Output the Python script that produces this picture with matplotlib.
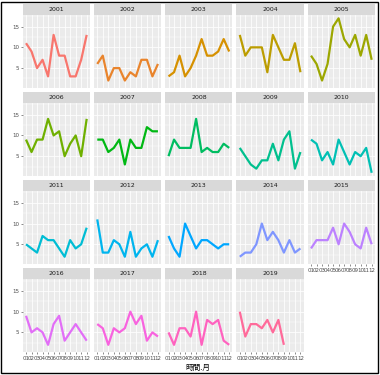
import numpy as np
import matplotlib
matplotlib.use("Agg")
import matplotlib.pyplot as plt
from matplotlib.patches import Rectangle

years = [str(y) for y in range(2001, 2020)]
months = ["01", "02", "03", "04", "05", "06", "07", "08", "09", "10", "11", "12"]

v2001 = [11, 9, 5, 7, 3, 13, 8, 8, 3, 3, 7, 13]
v2002 = [6, 8, 2, 5, 5, 2, 4, 3, 7, 7, 3, 6]
v2003 = [3, 4, 8, 3, 5, 8, 12, 8, 8, 9, 12, 9]
v2004 = [13, 8, 10, 10, 10, 4, 13, 10, 7, 7, 11, 4]
v2005 = [8, 6, 2, 6, 15, 17, 12, 10, 13, 8, 13, 7]
v2006 = [9, 6, 9, 9, 14, 10, 11, 5, 8, 10, 5, 14]
v2007 = [9, 9, 6, 7, 9, 3, 9, 7, 7, 12, 11, 11]
v2008 = [5, 9, 7, 7, 7, 14, 6, 7, 6, 6, 8, 7]
v2009 = [7, 5, 3, 2, 4, 4, 8, 4, 9, 11, 2, 6]
v2010 = [9, 8, 4, 6, 3, 9, 6, 3, 6, 5, 7, 1]
v2011 = [5, 4, 3, 7, 6, 6, 4, 2, 6, 4, 5, 9]
v2012 = [11, 3, 3, 6, 5, 2, 8, 2, 4, 5, 2, 6]
v2013 = [7, 4, 2, 10, 7, 4, 6, 6, 5, 4, 5, 5]
v2014 = [2, 3, 3, 5, 10, 6, 8, 6, 3, 6, 3, 4]
v2015 = [4, 6, 6, 6, 9, 5, 10, 8, 5, 4, 9, 5]
v2016 = [9, 5, 6, 5, 2, 7, 9, 3, 5, 7, 5, 3]
v2017 = [7, 6, 2, 6, 5, 6, 10, 7, 9, 3, 5, 4]
v2018 = [5, 2, 6, 6, 4, 10, 2, 8, 7, 8, 3, 2]
v2019 = [10, 4, 7, 7, 6, 8, 5, 8, 2]

series = [v2001, v2002, v2003, v2004, v2005, v2006, v2007, v2008, v2009, v2010,
          v2011, v2012, v2013, v2014, v2015, v2016, v2017, v2018, v2019]

yticks = [5, 10, 15]
xlabel = "時間.月"


def hcl_color(h, c=100.0, l=65.0):
    WY, Wu, Wv = 100.0, 0.1978398, 0.4683363
    hr = np.deg2rad(h)
    U, V = c * np.cos(hr), c * np.sin(hr)
    Y = WY * (((l + 16) / 116) ** 3 if l > 7.999592 else l / 903.3)
    u = U / (13 * l) + Wu
    v = V / (13 * l) + Wv
    X = 9.0 * Y * u / (4 * v)
    Z = -X / 3 - 5 * Y + 3 * Y / v
    rgb = np.array([
        3.240479 * X - 1.537150 * Y - 0.498535 * Z,
        -0.969256 * X + 1.875992 * Y + 0.041556 * Z,
        0.055648 * X - 0.204043 * Y + 1.057311 * Z]) / WY

    def g(t):
        return 1.055 * t ** (1 / 2.4) - 0.055 if t > 0.00304 else 12.92 * t
    return tuple(min(1, max(0, g(t))) for t in rgb)


n = len(years)
hues = np.linspace(15, 375, n + 1)[:n]
colors = [hcl_color(h) for h in hues]

W, H = 380, 375
fig = plt.figure(figsize=(W / 100, H / 100), dpi=100)
fig.patch.set_facecolor("white")


def fax(x, y, w, h):
    return fig.add_axes([x / W, 1 - (y + h) / H, w / W, h / H])


left0, pitch_x, pw = 22.7, 71.25, 67.3
top0, pitch_y, sh, ph = 4.0, 88.1, 11.0, 73.0
ncol = 5

ymin, ymax = 0.2, 17.8
for i, (yr, vals) in enumerate(zip(years, series)):
    r, c = divmod(i, ncol)
    x0 = left0 + c * pitch_x
    st = top0 + r * pitch_y
    # strip
    sax = fax(x0, st, pw, sh)
    sax.set_facecolor("#D9D9D9")
    sax.set_xticks([]); sax.set_yticks([])
    for s in sax.spines.values():
        s.set_visible(False)
    sax.text(0.5, 0.5, yr, ha="center", va="center", fontsize=4.5,
             color="#1A1A1A", transform=sax.transAxes)
    # panel
    ax = fax(x0, st + sh, pw, ph)
    ax.set_facecolor("#EBEBEB")
    for s in ax.spines.values():
        s.set_visible(False)
    xs = np.arange(1, len(vals) + 1)
    ax.plot(xs, vals, color=colors[i], lw=1.6, solid_joinstyle="round",
            solid_capstyle="butt", zorder=3)
    ax.set_xlim(0.4, 12.6)
    ax.set_ylim(ymin, ymax)
    ax.set_xticks(np.arange(1, 13))
    ax.set_yticks(yticks)
    ax.set_yticks([2.5, 7.5, 12.5, 17.5], minor=True)
    ax.grid(True, which="major", color="white", lw=0.55)
    ax.grid(True, which="minor", axis="y", color="white", lw=0.3)
    ax.set_axisbelow(True)
    ax.tick_params(which="minor", length=0)
    ax.tick_params(which="major", length=1.5, width=0.4, color="#333333",
                   labelsize=4.0, labelcolor="#4D4D4D", pad=1)
    show_x = (i + ncol) >= n
    if show_x:
        ax.set_xticklabels(months)
    else:
        ax.tick_params(axis="x", length=0, labelbottom=False)
    if c == 0:
        ax.set_yticklabels([str(t) for t in yticks])
    else:
        ax.tick_params(axis="y", length=0, labelleft=False)

fig.text(198 / W, 1 - 367.5 / H, xlabel, ha="center", va="center", fontsize=5.5,
         color="black", family=["Noto Sans CJK JP", "DejaVu Sans"])

fig.patches.append(Rectangle((1 / W, 1 - 373 / H), 377 / W, 371 / H,
                             transform=fig.transFigure, fill=False,
                             edgecolor="black", lw=1.0))

fig.savefig("out.png", dpi=100)
